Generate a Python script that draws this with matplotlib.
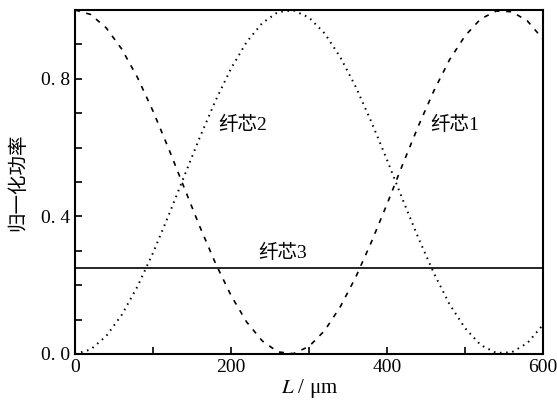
import numpy as np
import matplotlib
matplotlib.use("Agg")
import matplotlib.pyplot as plt
from matplotlib.ticker import MultipleLocator

plt.rcParams['font.family'] = ['Liberation Serif', 'Noto Sans CJK SC']
plt.rcParams['mathtext.fontset'] = 'stix'

# propagation length (um) and normalized power
L = [0, 20, 40, 60, 80, 100, 120, 140, 160, 180, 200, 220, 240, 260, 280, 300,
     320, 340, 360, 380, 400, 420, 440, 460, 480, 500, 520, 540, 560, 580, 600]
core1 = [1.000, 0.987, 0.948, 0.886, 0.804, 0.706, 0.597, 0.483, 0.370, 0.264,
         0.170, 0.093, 0.038, 0.006, 0.001, 0.022, 0.068, 0.137, 0.224, 0.326,
         0.436, 0.551, 0.662, 0.765, 0.855, 0.925, 0.974, 0.997, 0.995, 0.968, 0.915]
core2 = [0.000, 0.013, 0.052, 0.114, 0.196, 0.294, 0.403, 0.517, 0.630, 0.736,
         0.830, 0.907, 0.962, 0.994, 0.999, 0.978, 0.932, 0.863, 0.776, 0.674,
         0.564, 0.449, 0.338, 0.235, 0.145, 0.075, 0.026, 0.003, 0.005, 0.032, 0.085]
core3 = [0.25] * len(L)

fig = plt.figure(figsize=(5.57, 4.13), dpi=100)
ax = fig.add_axes([0.1347, 0.1429, 0.8403, 0.8329])

ax.plot(L, core1, color="black", lw=1.2, ls=(0, (3, 4)))
ax.plot(L, core2, color="black", lw=1.4, ls=(0, (0.8, 2.4)))
ax.plot(L, core3, color="black", lw=1.2)

ax.text(183, 0.665, "纤芯2", fontsize=14, va="center", ha="left")
ax.text(455, 0.665, "纤芯1", fontsize=14, va="center", ha="left")
ax.text(235, 0.295, "纤芯3", fontsize=14, va="center", ha="left")

ax.set_xlim(0, 600)
ax.set_ylim(0, 1.0)
ax.xaxis.set_major_locator(MultipleLocator(200))
ax.xaxis.set_minor_locator(MultipleLocator(100))
ax.set_yticks([0.0, 0.4, 0.8])
ax.set_yticklabels(["0. 0", "0. 4", "0. 8"])
ax.yaxis.set_minor_locator(MultipleLocator(0.1))
ax.tick_params(which="both", direction="in", top=False, right=False,
               labelsize=14, length=5, width=1.2)
for s in ax.spines.values():
    s.set_linewidth(1.5)

ax.set_xlabel("$L$ / μm", fontsize=15, labelpad=1)
ax.set_ylabel("归一化功率", fontsize=14, labelpad=10)

fig.savefig("out.png", dpi=100)
